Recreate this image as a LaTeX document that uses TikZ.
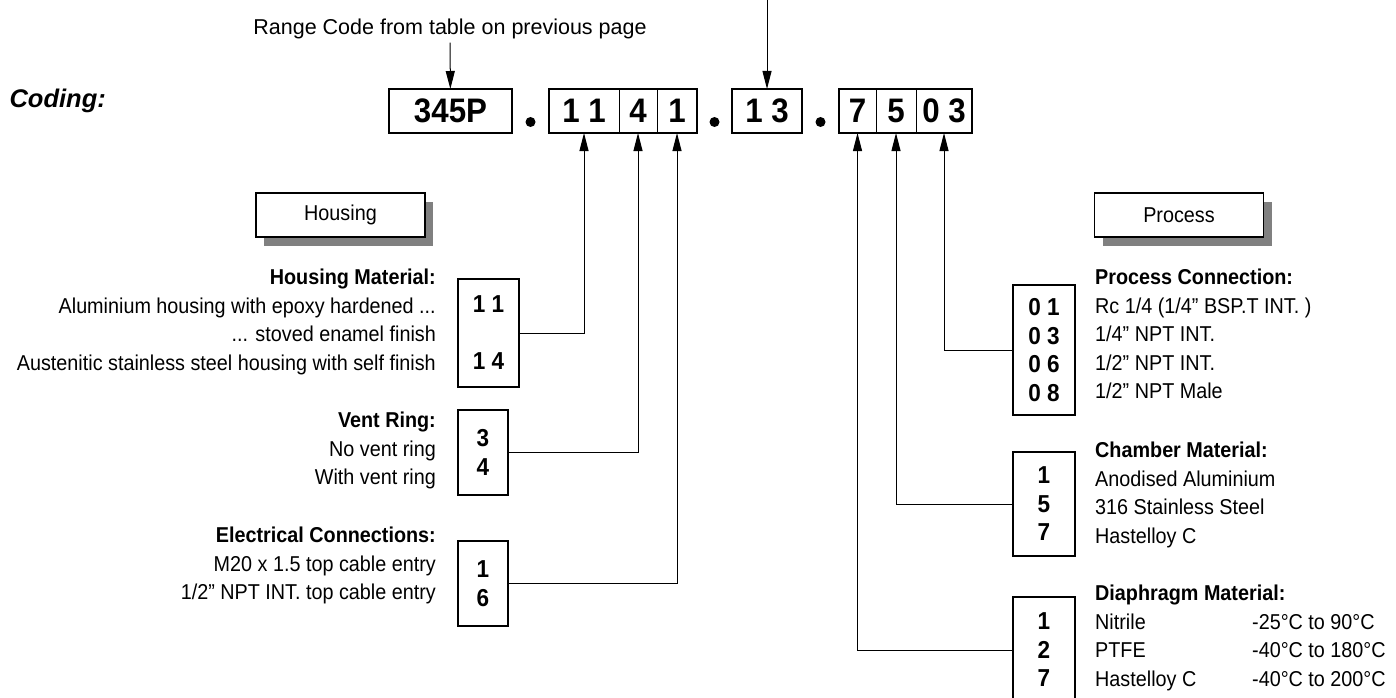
\documentclass[tikz,border=0pt]{standalone}
\usepackage{fontspec}
\setmainfont{Liberation Sans}[FakeStretch=0.92]
\newfontfamily\plainsans{Liberation Sans}
\usetikzlibrary{arrows.meta,positioning,shadows}

\begin{document}
\begin{tikzpicture}[x=1pt, y=-1pt, >={Triangle[length=18pt,width=9pt]},
  cell/.style={minimum height=44pt, inner sep=0pt, outer sep=0pt, font=\fontsize{34}{36}\selectfont\bfseries},
  codebox/.style={draw, line width=2pt, minimum width=62pt, inner sep=0pt, align=center, font=\fontsize{24.5}{28.5}\selectfont\bfseries},
  desc/.style={inner sep=0pt, font=\fontsize{21.5}{28.5}\selectfont},
  group/.style={draw, line width=1.5pt, fill=white, minimum width=169pt, minimum height=44pt, font=\fontsize{21.5}{24}\selectfont, drop shadow={shadow xshift=8pt, shadow yshift=-9pt, fill=black!50, opacity=1}},
  dot/.style={circle, fill, inner sep=0pt, minimum size=10pt},
  link/.style={line width=1pt}]

\useasboundingbox (0,0) rectangle (1396,698);

\node[anchor=west, font=\plainsans\fontsize{25.5}{30}\selectfont\bfseries\itshape] (coding) at (6,101) {Coding:};
\node[font=\plainsans\fontsize{21.5}{26}\selectfont] (range) at (450,29) {Range Code from table on previous page};
\coordinate (sensor) at (767,0);

\node[cell, minimum width=123pt] (c345) at (450.5,111) {345P};
\node[cell, minimum width=70pt, right=37pt of c345] (c11) {1 1};
\node[cell, minimum width=38pt, right=0pt of c11] (c4) {4};
\node[cell, minimum width=40pt, right=0pt of c4] (c1) {1};
\node[cell, minimum width=70pt, right=35pt of c1] (c13) {1 3};
\node[cell, minimum width=37pt, right=37pt of c13] (c7) {7};
\node[cell, minimum width=40pt, right=0pt of c7] (c5) {5};
\node[cell, minimum width=56pt, right=0pt of c5] (c03) {0 3};

\draw[line width=2pt] (c345.north west) rectangle (c345.south east);
\draw[line width=2pt] (c11.north west) rectangle (c1.south east);
\draw (c4.north west) -- (c4.south west) (c1.north west) -- (c1.south west);
\draw[line width=2pt] (c13.north west) rectangle (c13.south east);
\draw[line width=2pt] (c7.north west) rectangle (c03.south east);
\draw (c5.north west) -- (c5.south west) (c03.north west) -- (c03.south west);

\node[dot] (dot1) at (530.5,122) {};
\node[dot] (dot2) at (714.5,122) {};
\node[dot] (dot3) at (820.5,122) {};

\draw[link,->] (range) -- (c345);
\draw[link,->] (sensor) -- (c13);

\node[group] (housing) at (340.5,215) {Housing};
\node[group] (process) at (1179,215) {Process};

\node[codebox, minimum width=61pt, minimum height=108pt] (hm) at (488.5,333) {1 1\\[28.5pt]1 4};
\node[codebox, minimum width=50pt, minimum height=85pt] (vr) at (483,452.5) {3\\4};
\node[codebox, minimum width=50pt, minimum height=85pt] (ec) at (483,583.5) {1\\6};
\node[codebox, minimum height=130pt] (pc) at (1044,350) {0 1\\0 3\\0 6\\0 8};
\node[codebox, minimum height=104pt] (cm) at (1044,504) {1\\5\\7};
\node[codebox, minimum height=106pt] (dm) at (1044,650) {1\\2\\7};

\node[desc, anchor=north east, align=right] (hmtext) at (436,269) {\textbf{Housing Material:}\\Aluminium housing with epoxy hardened ...\\... stoved enamel finish\\Austenitic stainless steel housing with self finish};
\node[desc, anchor=north east, align=right] (vrtext) at (436,412) {\textbf{Vent Ring:}\\No vent ring\\With vent ring};
\node[desc, anchor=north east, align=right] (ectext) at (436,527) {\textbf{Electrical Connections:}\\M20 x 1.5 top cable entry\\1/2” NPT INT. top cable entry};
\node[desc, anchor=north west, align=left] (pctext) at (1095,269) {\textbf{Process Connection:}\\Rc 1/4 (1/4” BSP.T INT. )\\1/4” NPT INT.\\1/2” NPT INT.\\1/2” NPT Male};
\node[desc, anchor=north west, align=left] (cmtext) at (1095,442) {\textbf{Chamber Material:}\\Anodised Aluminium\\316 Stainless Steel\\Hastelloy C};
\node[desc, anchor=north west, align=left] (dmtext) at (1095,585) {\textbf{Diaphragm Material:}\\\makebox[157pt][l]{Nitrile}-25°C to 90°C\\\makebox[157pt][l]{PTFE}-40°C to 180°C\\\makebox[157pt][l]{Hastelloy C}-40°C to 200°C};

\draw[link,->] (hm) -| (c11);
\draw[link,->] (vr) -| (c4);
\draw[link,->] (ec) -| (c1);
\draw[link,->] (pc) -| (c03);
\draw[link,->] (cm) -| (c5);
\draw[link,->] (dm) -| (c7);
\end{tikzpicture}
\end{document}
